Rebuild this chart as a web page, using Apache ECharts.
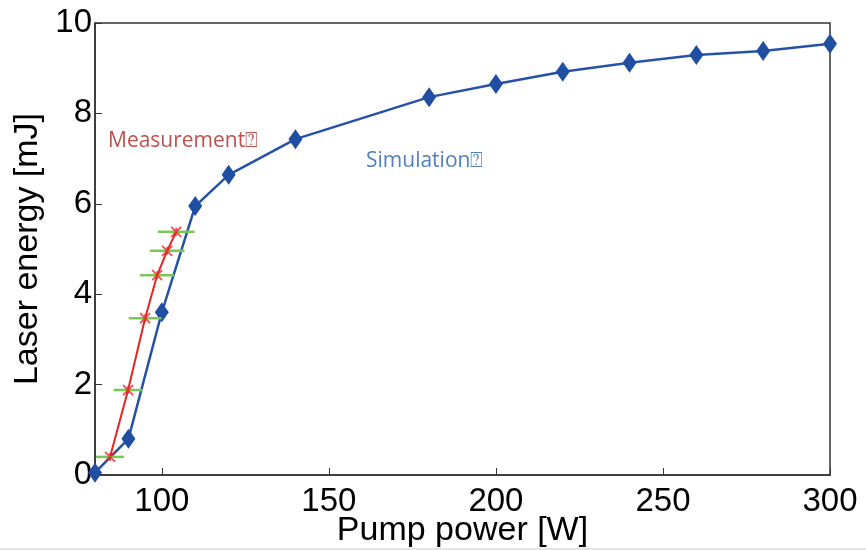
<!DOCTYPE html>
<html>
<head>
<meta charset="utf-8">
<script src="https://cdn.jsdelivr.net/npm/echarts@6/dist/echarts.min.js"></script>
<style>
  html, body { margin: 0; padding: 0; background: #fff; }
  #chart { width: 866px; height: 550px; }
</style>
</head>
<body>
<div id="chart"></div>
<script>
// simulation (blue diamonds)
const simPower = [80, 90, 100, 110, 120, 140, 180, 200, 220, 240, 260, 280, 300];
const simEnergy = [0.05, 0.8, 3.6, 5.95, 6.64, 7.43, 8.36, 8.65, 8.92, 9.12, 9.29, 9.38, 9.54];
// measurement (red crosses + green horizontal error bars)
const measPower = [84.5, 89.9, 95.0, 98.6, 101.6, 104.3];
const measEnergy = [0.4, 1.88, 3.47, 4.42, 4.96, 5.38];
const measErr = [4.2, 4.3, 4.9, 5.1, 5.2, 5.5];
// ticks
const xTicks = [100, 150, 200, 250, 300];
const yTicks = [0, 2, 4, 6, 8, 10];

const chart = echarts.init(document.getElementById('chart'));

const simData = simPower.map((p, i) => [p, simEnergy[i]]);
const measData = measPower.map((p, i) => [p, measEnergy[i]]);
const errData = measPower.map((p, i) => [p, measEnergy[i], measErr[i]]);

const font = '"Liberation Sans", Arial, sans-serif';

const option = {
  backgroundColor: '#fff',
  animation: false,
  grid: {
    left: 95, right: 36, top: 23, bottom: 75,
    outerBoundsMode: 'none',
    containLabel: false,
    show: true,
    borderColor: '#333',
    borderWidth: 1.5
  },
  xAxis: {
    type: 'value',
    min: 80,
    max: 300,
    name: 'Pump power [W]',
    nameLocation: 'middle',
    nameGap: 39,
    nameMoveOverlap: false,
    nameTextStyle: { fontFamily: font, fontSize: 34, color: '#000' },
    axisLine: { show: true, onZero: false, lineStyle: { color: '#333', width: 1.5 } },
    axisTick: { show: true, inside: true, length: 7, customValues: xTicks, lineStyle: { color: '#333' } },
    axisLabel: { customValues: xTicks, fontFamily: font, fontSize: 33, color: '#000', margin: 10 },
    splitLine: { show: false }
  },
  yAxis: {
    type: 'value',
    min: 0,
    max: 10,
    interval: 2,
    name: 'Laser energy [mJ]',
    nameLocation: 'middle',
    nameGap: 47,
    nameTextStyle: { fontFamily: font, fontSize: 34, color: '#000' },
    axisLine: { show: true, lineStyle: { color: '#333', width: 1.5 } },
    axisTick: { show: true, inside: true, length: 7, lineStyle: { color: '#333' } },
    axisLabel: { fontFamily: font, fontSize: 33, color: '#000', margin: 3,
      formatter: v => (yTicks.indexOf(v) >= 0 ? String(v) : '') },
    splitLine: { show: false }
  },
  series: [
    {
      name: 'Simulation',
      type: 'line',
      data: simData,
      lineStyle: { color: '#2652a6', width: 2.5 },
      itemStyle: { color: '#1f4ea3' },
      symbol: 'diamond',
      symbolSize: [14, 20],
      z: 2
    },
    {
      name: 'Measurement',
      type: 'line',
      data: measData,
      showSymbol: false,
      lineStyle: { color: '#e82323', width: 2 },
      z: 3
    },
    {
      // 误差棒
      type: 'custom',
      data: errData,
      z: 4,
      renderItem: (params, api) => {
        const x = api.value(0);
        const y = api.value(1);
        const e = api.value(2);
        const a = api.coord([x - e, y]);
        const b = api.coord([x + e, y]);
        return {
          type: 'line',
          shape: { x1: a[0], y1: a[1], x2: b[0], y2: b[1] },
          style: { stroke: '#7cc656', lineWidth: 2.5 }
        };
      }
    },
    {
      type: 'scatter',
      data: measData,
      symbol: 'path://M0,0L10,10M10,0L0,10M5,1L5,9',
      symbolSize: 10,
      itemStyle: { color: 'none', borderColor: '#e82323', borderWidth: 1.8 },
      z: 5
    }
  ],
  graphic: [
    {
      type: 'text',
      left: 108,
      top: 131,
      style: { text: 'Measurement\u2370', fill: '#c0504d', font: '21px "Open Sans", sans-serif' }
    },
    {
      type: 'text',
      left: 366,
      top: 151,
      style: { text: 'Simulation\u2370', fill: '#4f81bd', font: '21px "Open Sans", sans-serif' }
    },
    {
      type: 'rect',
      left: 0,
      top: 548,
      shape: { width: 866, height: 2 },
      style: { fill: '#e4e4e4' }
    }
  ]
};

chart.setOption(option);
</script>
</body>
</html>
